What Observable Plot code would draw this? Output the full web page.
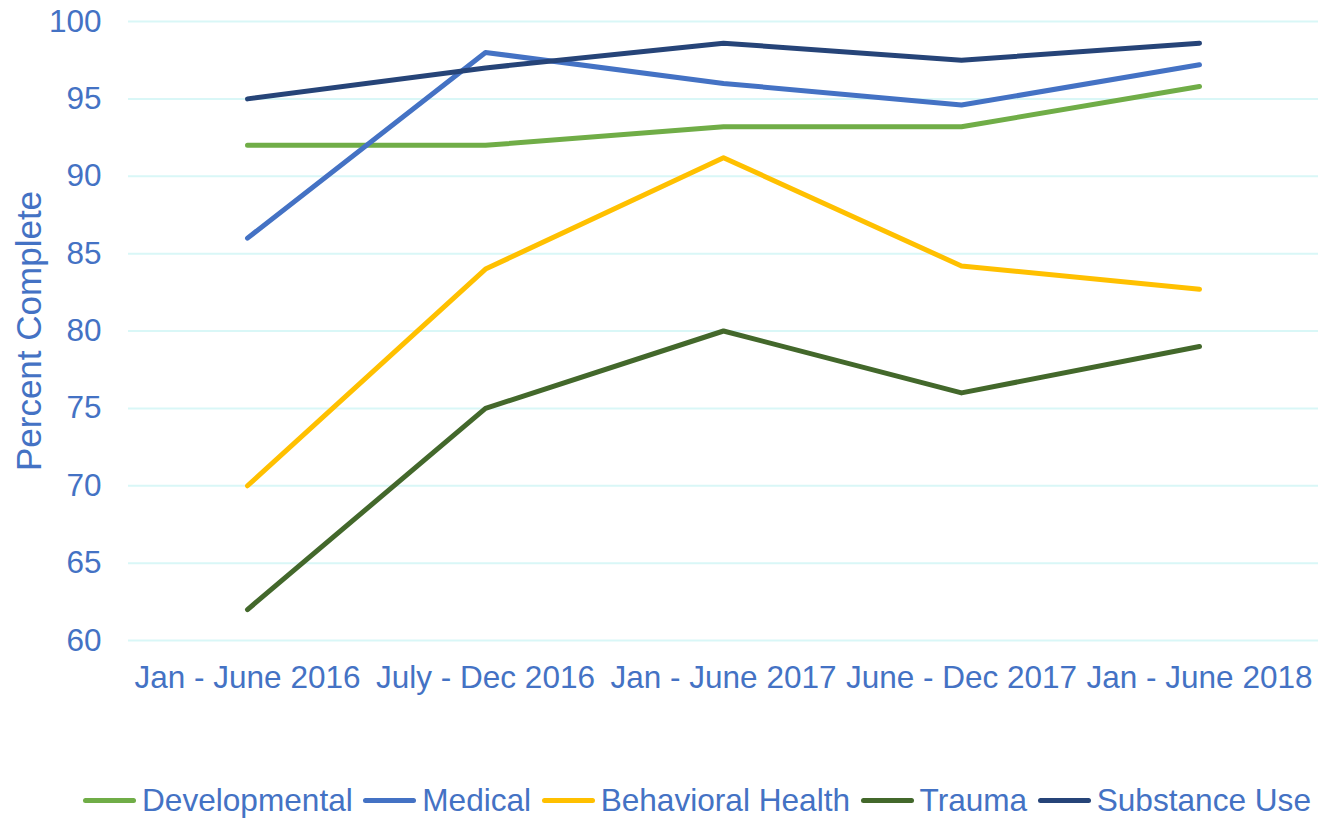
<!DOCTYPE html>
<html>
<head>
<meta charset="utf-8">
<script src="https://cdn.jsdelivr.net/npm/d3@7"></script>
<script src="https://cdn.jsdelivr.net/npm/@observablehq/plot@0.6"></script>
<style>
  body { margin: 0; background: #fff; font-family: "Liberation Sans", Arial, sans-serif; }
  #wrap { position: relative; width: 1319px; height: 821px; }
  #legend { position: absolute; left: 83px; top: 782px; display: flex; align-items: center; font-size: 31.6px; color: #4472C4; line-height: 36px; white-space: nowrap; }
  .item { display: flex; align-items: center; margin-right: 10.5px; }
  .sw { width: 53px; height: 5px; border-radius: 3px; margin-right: 6px; }
</style>
</head>
<body>
<div id="wrap"></div>
<script>
const periods = ["Jan - June 2016", "July - Dec 2016", "Jan - June 2017", "June - Dec 2017", "Jan - June 2018"];
const seriesNames = ["Developmental", "Medical", "Behavioral Health", "Trauma", "Substance Use"];
const seriesColors = ["#70AD47", "#4472C4", "#FFC000", "#43682B", "#264478"];
const developmental = [92, 92, 93.2, 93.2, 95.8];
const medical = [86, 98, 96, 94.6, 97.2];
const behavioralHealth = [70, 84, 91.2, 84.2, 82.7];
const trauma = [62, 75, 80, 76, 79];
const substanceUse = [95, 97, 98.6, 97.5, 98.6];
const yTicks = [60, 65, 70, 75, 80, 85, 90, 95, 100];

const valuesBySeries = [developmental, medical, behavioralHealth, trauma, substanceUse];
const data = [];
seriesNames.forEach((s, i) => {
  periods.forEach((p, j) => data.push({series: s, period: p, value: valuesBySeries[i][j]}));
});

const chart = Plot.plot({
  width: 1319,
  height: 700,
  marginLeft: 128,
  marginRight: 1,
  marginTop: 21,
  marginBottom: 60,
  style: {fontSize: "31.5px", fontFamily: "'Liberation Sans', Arial, sans-serif", color: "#4472C4", background: "#fff"},
  x: {type: "point", domain: periods, padding: 0.5, label: null},
  y: {domain: [60, 100], ticks: yTicks, label: null},
  color: {domain: seriesNames, range: seriesColors},
  marks: [
    Plot.ruleY(yTicks, {stroke: "#D9F7F7", strokeWidth: 2}),
    Plot.axisX({tickSize: 0, tickPadding: 25, fontSize: 31.5}),
    Plot.axisY({ticks: yTicks, tickSize: 0, tickPadding: 27, fontSize: 31.5}),
    Plot.line(data, {x: "period", y: "value", z: "series", stroke: "series", strokeWidth: 5, strokeLinecap: "round", strokeLinejoin: "round"}),
    Plot.text(["Percent Complete"], {frameAnchor: "left", dx: -99, rotate: -90, textAnchor: "middle", lineAnchor: "middle", text: d => d, fontSize: 35, fill: "#4472C4"})
  ]
});
document.getElementById("wrap").appendChild(chart);

const legend = document.createElement("div");
legend.id = "legend";
seriesNames.forEach((s, i) => {
  const it = document.createElement("div");
  it.className = "item";
  const sw = document.createElement("span");
  sw.className = "sw";
  sw.style.background = seriesColors[i];
  const tx = document.createElement("span");
  tx.textContent = s;
  it.appendChild(sw);
  it.appendChild(tx);
  legend.appendChild(it);
});
document.getElementById("wrap").appendChild(legend);
</script>
</body>
</html>
